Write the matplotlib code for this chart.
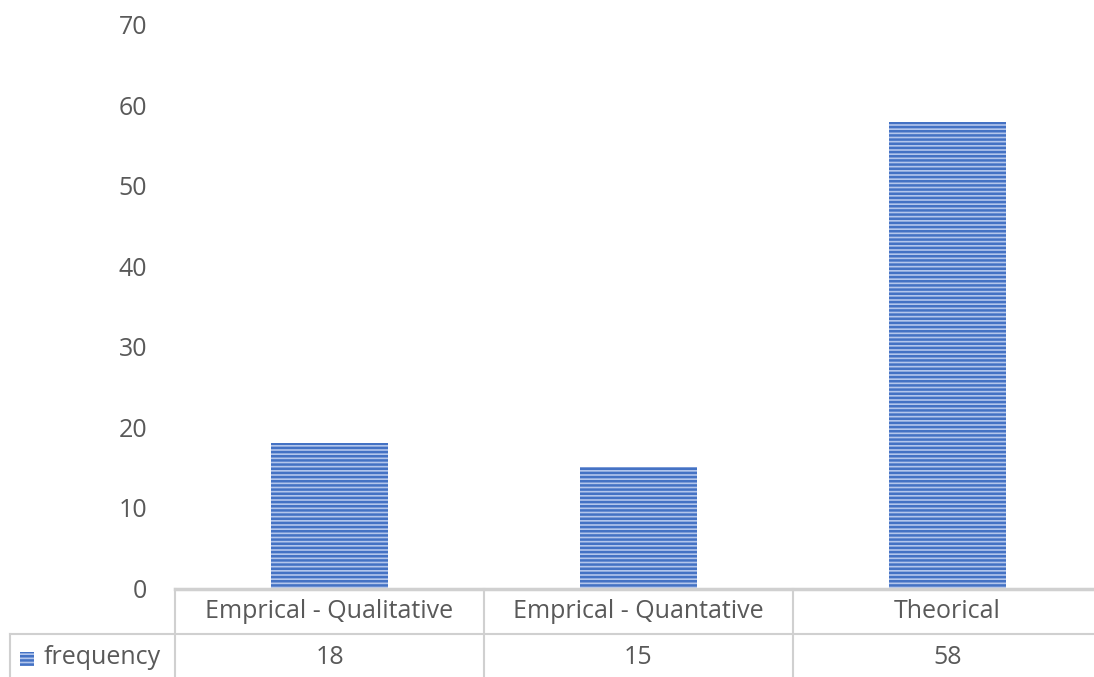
import matplotlib.pyplot as plt
from matplotlib import transforms
from matplotlib.patches import Rectangle

# data
categorias = ['Emprical - Qualitative', 'Emprical - Quantative', 'Theorical']
frequencia = [18, 15, 58]
serie = 'frequency'
yticks = [0, 10, 20, 30, 40, 50, 60, 70]

plt.rcParams['font.family'] = ['Open Sans', 'DejaVu Sans']
plt.rcParams['hatch.linewidth'] = 1.8
cinza_txt = '#595959'
cinza_linha = '#d0d0d0'
azul = '#4472c4'
azul_claro = '#b3c6ec'
fs = 18

W, H = 1094, 677
fig = plt.figure(figsize=(W / 100, H / 100), dpi=100)
ax = fig.add_axes([175 / W, (H - 588) / H, (W - 175) / W, (588 - 25) / H])

x = range(len(categorias))
ax.bar(x, frequencia, width=0.38, color=azul_claro, edgecolor=azul,
       linewidth=0, hatch='----')

ax.set_xlim(-0.5, -0.5 + (W - 175) / 309)
ax.set_ylim(0, 70)
ax.set_yticks(yticks)
ax.tick_params(axis='y', length=0, pad=20, labelsize=fs, labelcolor=cinza_txt)
ax.set_xticks([])
for s in ax.spines.values():
    s.set_visible(False)

# table under the axis
tr = transforms.blended_transform_factory(ax.transData, fig.transFigure)
def fy(py):
    return (H - py) / H

def hline(py, x0, lw=1.5):
    fig.add_artist(plt.Line2D([x0 / W, 1], [fy(py), fy(py)], color=cinza_linha, lw=lw))

def vline(px, y0, y1):
    fig.add_artist(plt.Line2D([px / W, px / W], [fy(y0), fy(y1)], color=cinza_linha, lw=1.5))

hline(589, 175, lw=2.5)
hline(634, 10)
for px in [175, 484, 793]:
    vline(px, 589, 677)
vline(10, 634, 677)

for i, (cat, val) in enumerate(zip(categorias, frequencia)):
    fig.text(i, fy(612), cat, transform=tr, ha='center', va='center',
             fontsize=fs, color=cinza_txt)
    fig.text(i, fy(658), str(val), transform=tr, ha='center', va='center',
             fontsize=fs, color=cinza_txt)

# legend key
fig.add_artist(Rectangle((20 / W, fy(666)), 14 / W, 14 / H, transform=fig.transFigure,
                         facecolor=azul_claro, edgecolor=azul, linewidth=0, hatch='----'))
fig.text(44 / W, fy(658), serie, ha='left', va='center', fontsize=fs, color=cinza_txt)

fig.savefig('out.png', dpi=100)
